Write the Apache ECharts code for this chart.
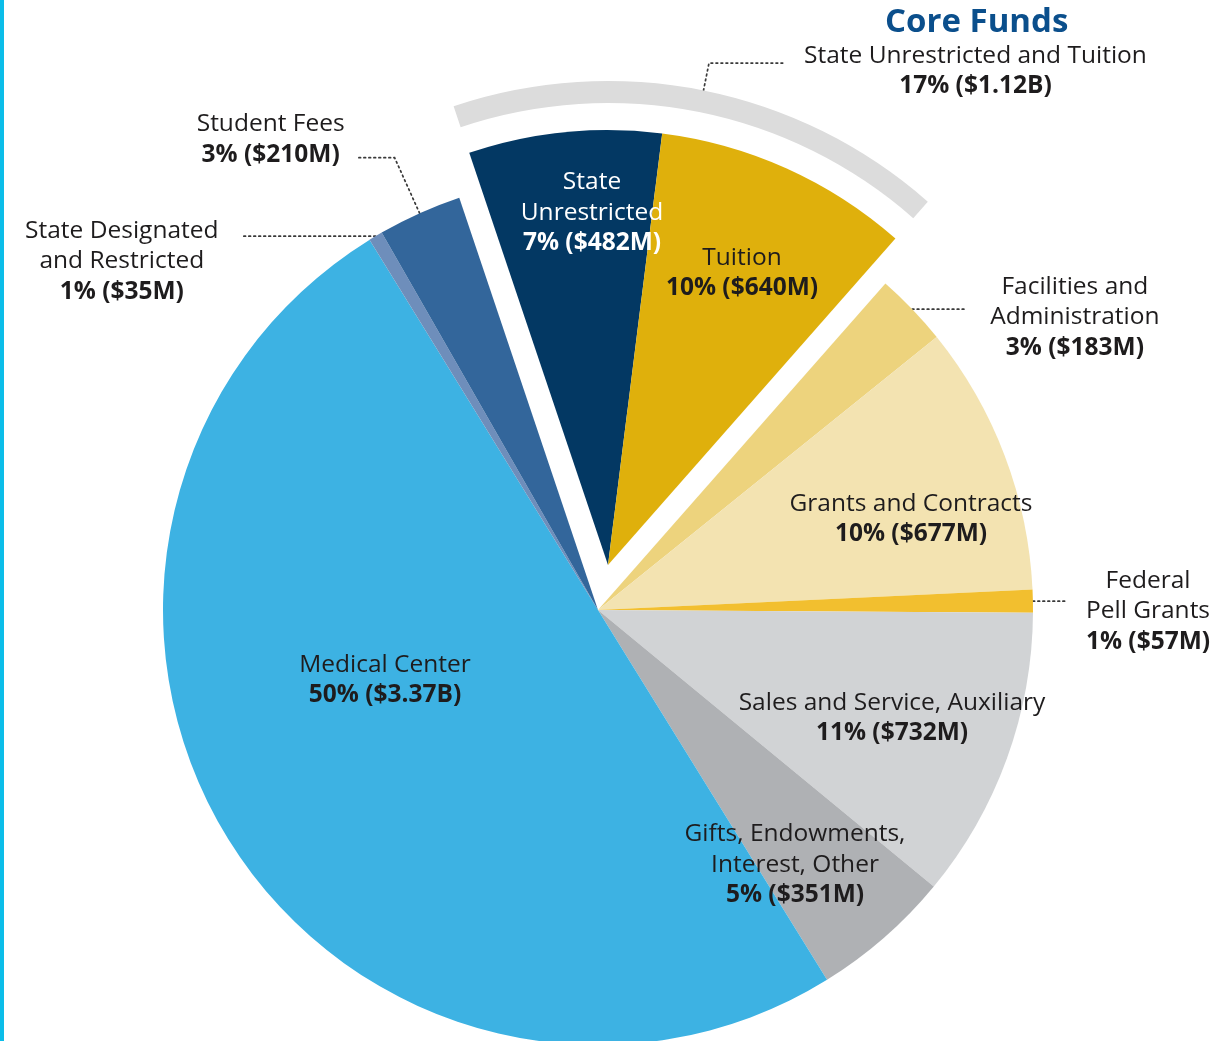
<!DOCTYPE html>
<html>
<head>
<meta charset="utf-8">
<script src="https://cdn.jsdelivr.net/npm/echarts@6/dist/echarts.min.js"></script>
<style>
  html, body { margin: 0; padding: 0; background: #ffffff; }
  #chart { width: 1232px; height: 1041px; }
  #edge { position: absolute; left: 0; top: 0; width: 4px; height: 1041px; background: #0BBDE9; }
</style>
</head>
<body>
<div id="chart"></div>
<div id="edge"></div>
<script>
// ---------------- DATA ----------------
const categories = [
  'State Unrestricted',
  'Tuition',
  'Facilities and Administration',
  'Grants and Contracts',
  'Federal Pell Grants',
  'Sales and Service, Auxiliary',
  'Gifts, Endowments, Interest, Other',
  'Medical Center',
  'State Designated and Restricted',
  'Student Fees'
];
// values in $ millions
const valuesM = [482, 640, 183, 677, 57, 732, 351, 3370, 35, 210];
// percentages as printed on the chart
const percents = [7, 10, 3, 10, 1, 11, 5, 50, 1, 3];
// how each category name is broken into lines in its label
const nameLines = [
  ['State', 'Unrestricted'],
  ['Tuition'],
  ['Facilities and', 'Administration'],
  ['Grants and Contracts'],
  ['Federal', 'Pell Grants'],
  ['Sales and Service, Auxiliary'],
  ['Gifts, Endowments,', 'Interest, Other'],
  ['Medical Center'],
  ['State Designated', 'and Restricted'],
  ['Student Fees']
];
const isCore = [true, true, false, false, false, false, false, false, false, false];
const coreTitle = 'Core Funds';
const coreName = 'State Unrestricted and Tuition';
const corePercent = 17;

// ---------------- DERIVED ----------------
const coreTotal = valuesM.filter((v, i) => isCore[i]).reduce((a, b) => a + b, 0);
const money = v => v >= 1000 ? '$' + (v / 1000).toFixed(2) + 'B' : '$' + v + 'M';
const valueText = (p, v) => p + '% (' + money(v) + ')';

// ---------------- STYLE / LAYOUT ----------------
const FONT = '"Open Sans", "Liberation Sans", sans-serif';
const FS = 24.5, LH = 30.5;
const sliceColors = ['#033863', '#DFB00C', '#EDD37D', '#F3E3B1', '#F2BF2F',
                     '#D1D3D5', '#AFB1B4', '#3DB2E3', '#6E8EBB', '#33669B'];
const TRANSPARENT = 'rgba(0,0,0,0)';
const mainCenter = [598, 610];
const coreCenter = [608, 565];
const R = 435;
const startAngle = 108.6;
// inside label centres
const insidePlace = { 0: [592, 213], 1: [742, 273], 3: [911, 519], 5: [892, 718], 6: [795, 865], 7: [385, 680] };
// outside label leader settings
const outsideCfg = {
  2: { length: 0, length2: 53, dist: 25, pad: [16, 0, 0, 0] },
  4: { length: 0, length2: 35, dist: 18, pad: [20, 0, 0, 0] },
  8: { length: 0, length2: 134, dist: 23, pad: [50, 0, 0, 0] },
  9: { length: 61, length2: 37, dist: 13, pad: [0, 0, 36, 0] }
};
const TXT = '#1E1C1D';
const rich = {
  n:  { fontFamily: FONT, fontSize: FS, color: TXT, lineHeight: LH, align: 'center' },
  b:  { fontFamily: FONT, fontSize: FS, fontWeight: 'bold', color: TXT, lineHeight: LH, align: 'center' },
  nw: { fontFamily: FONT, fontSize: FS, color: '#FFFFFF', lineHeight: LH, align: 'center' },
  bw: { fontFamily: FONT, fontSize: FS, fontWeight: 'bold', color: '#FFFFFF', lineHeight: LH, align: 'center' }
};
const dotted = { color: '#3a3a3a', width: 1.7, type: [1.7, 3.3], cap: 'round' };

function labelText(i) {
  const white = i === 0;
  const n = white ? 'nw' : 'n', b = white ? 'bw' : 'b';
  return nameLines[i].map(s => '{' + n + '|' + s + '}').join('\n') +
         '\n{' + b + '|' + valueText(percents[i], valuesM[i]) + '}';
}

function itemFor(i, visible) {
  const item = {
    name: categories[i],
    value: valuesM[i],
    itemStyle: { color: visible ? sliceColors[i] : TRANSPARENT }
  };
  if (!visible) {
    item.label = { show: false };
    item.labelLine = { show: false };
    return item;
  }
  if (outsideCfg[i]) {
    const c = outsideCfg[i];
    item.label = { show: true, position: 'outside', formatter: labelText(i), rich: rich,
                   distanceToLabelLine: c.dist, padding: c.pad };
    item.labelLine = { show: true, length: c.length, length2: c.length2, lineStyle: dotted, smooth: false };
  } else {
    item.label = { show: true, position: 'inside', formatter: labelText(i), rich: rich };
    item.labelLine = { show: false };
  }
  return item;
}

const layoutFn = params => {
  const p = insidePlace[params.dataIndex];
  return p ? { x: p[0], y: p[1] } : {};
};

const mainData = categories.map((c, i) => itemFor(i, !isCore[i]));
const coreData = categories.map((c, i) => itemFor(i, isCore[i]));

// grey arc: core total + remainder (invisible)
const arcData = [{
  name: coreName,
  value: coreTotal,
  itemStyle: { color: '#DCDCDC' },
  label: {
    show: true, position: 'outside',
    formatter: '{n|' + coreName + '}\n{b|' + valueText(corePercent, coreTotal) + '}',
    rich: rich, distanceToLabelLine: 20, padding: [16, 0, 0, 0]
  },
  labelLine: { show: true, length: 28, length2: 75, lineStyle: dotted, smooth: false }
}].concat(categories.map((c, i) => i).filter(i => !isCore[i]).map(i => ({
  name: categories[i], value: valuesM[i],
  itemStyle: { color: TRANSPARENT }, label: { show: false }, labelLine: { show: false }
})));

const chart = echarts.init(document.getElementById('chart'), null, { renderer: 'canvas' });
chart.setOption({
  animation: false,
  backgroundColor: '#ffffff',
  title: {
    text: coreTitle,
    left: 885, top: 6, padding: 0,
    textStyle: { fontFamily: FONT, fontSize: 33, fontWeight: 'bold', color: '#0B4F8C' }
  },
  series: [
    {
      type: 'pie', name: 'arc', center: coreCenter, radius: [462, 484],
      startAngle: startAngle, clockwise: true, avoidLabelOverlap: false,
      minShowLabelAngle: 0, silent: true, data: arcData,
      emphasis: { disabled: true }
    },
    {
      type: 'pie', name: 'main', center: mainCenter, radius: [0, R],
      startAngle: startAngle, clockwise: true, avoidLabelOverlap: false,
      minShowLabelAngle: 0, silent: true, data: mainData, labelLayout: layoutFn,
      emphasis: { disabled: true }
    },
    {
      type: 'pie', name: 'core', center: coreCenter, radius: [0, R],
      startAngle: startAngle, clockwise: true, avoidLabelOverlap: false,
      minShowLabelAngle: 0, silent: true, data: coreData, labelLayout: layoutFn,
      emphasis: { disabled: true }
    }
  ]
});
</script>
</body>
</html>
